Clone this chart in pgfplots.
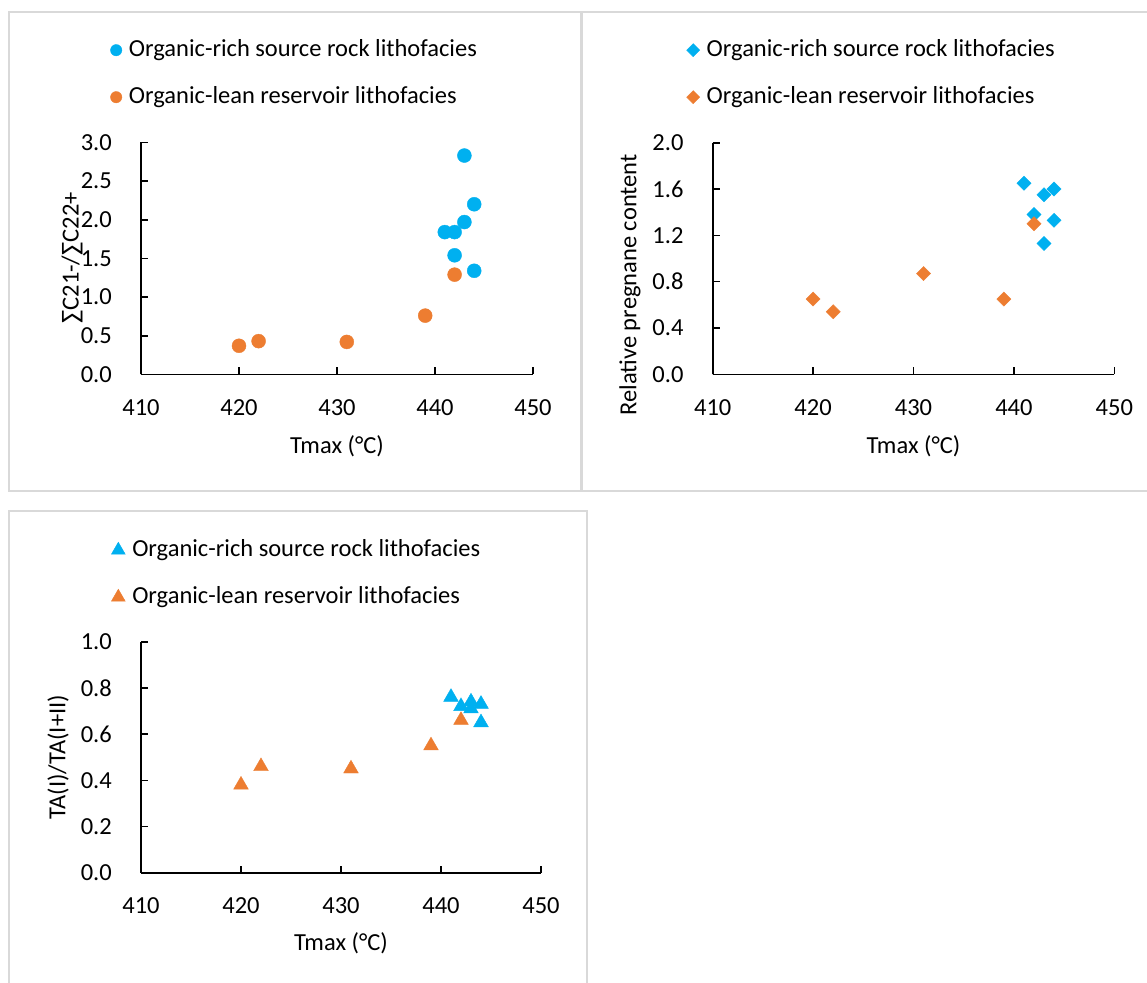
\documentclass[border=0pt]{standalone}
\usepackage{fontspec}
\setmainfont{Carlito}
\usepackage{pgfplots}
\pgfplotsset{compat=1.18}

\definecolor{richblue}{HTML}{00B0F0}
\definecolor{leanorange}{HTML}{ED7D31}
\definecolor{framegray}{HTML}{D9D9D9}

\newcommand{\chartfont}{\fontsize{24.5bp}{29bp}\selectfont}

\pgfplotsset{
  panel/.style={
    scale only axis,
    enlargelimits=false,
    clip=false,
    axis x line*=bottom,
    axis y line*=left,
    axis line style={black, line width=1.6bp, -},
    every tick/.style={black, line width=1.6bp},
    tick align=inside,
    major tick length=7bp,
    xmin=410, xmax=450, xtick={410,420,...,450},
    tick label style={font=\chartfont},
    /pgf/number format/assume math mode=true,
    xticklabel style={anchor=center, inner sep=0pt, yshift=-33.4bp,
      /pgf/number format/.cd, fixed, precision=0, 1000 sep={}},
    yticklabel style={anchor=east, inner sep=0pt, xshift=-29bp,
      /pgf/number format/.cd, fixed, fixed zerofill, precision=1},
    legend cell align=left,
    legend style={
      draw=none, fill=none, font=\chartfont,
      anchor=north west, inner sep=0pt, row sep=25bp,
      nodes={inner sep=0pt, text height=17bp, text depth=5bp},
      /tikz/every odd column/.append style={column sep=7bp},
    },
  },
  xlab/.style={every axis x label/.style={at={(axis description cs:0.5,#1)}, anchor=center, font=\chartfont}},
  ylab/.style 2 args={every axis y label/.style={at={(axis description cs:#1,#2)}, anchor=center, rotate=90, font=\chartfont}},
  richpts/.style={only marks, mark options={draw=none, fill=richblue}, color=richblue},
  leanpts/.style={only marks, mark options={draw=none, fill=leanorange}, color=leanorange},
  keymark/.style={legend image code/.code={\draw[##1, mark size=#1] plot coordinates {(0bp,0bp)};}},
}

\begin{document}
\begin{tikzpicture}
\useasboundingbox (0,0) rectangle (1147bp,-983bp);
\fill[white] (0,0) rectangle (1147bp,-983bp);

% panel frames
\draw[framegray, line width=1.6bp] (9bp,-12bp) rectangle (581bp,-491bp);
\draw[framegray, line width=1.6bp] (1150bp,-12bp) -- (582bp,-12bp) -- (582bp,-491bp) -- (1150bp,-491bp);
\draw[framegray, line width=1.6bp] (9bp,-990bp) -- (9bp,-511bp) -- (587bp,-511bp) -- (587bp,-990bp);

% ---- Sum C21- / Sum C22+ ----
\begin{axis}[panel,
  at={(141bp,-374.4bp)}, anchor=south west,
  width=392bp, height=232bp,
  ymin=0, ymax=3, ytick={0,0.5,...,3},
  xlabel={Tmax (°C)}, ylabel={∑C21-/∑C22+},
  xlab=-0.309, ylab={-0.176}{0.502},
  legend style={at={(axis description cs:-0.0783,1.4457)}},
]
\addplot[richpts, mark=*, mark size=7bp, keymark=5.7bp]
  coordinates {(443,2.83) (444,2.20) (443,1.97) (441,1.84) (442,1.84) (442,1.54) (444,1.34)};
\addlegendentry{Organic-rich source rock lithofacies}
\addplot[leanpts, mark=*, mark size=7bp, keymark=5.7bp]
  coordinates {(420,0.37) (422,0.43) (431,0.42) (439,0.76) (442,1.29)};
\addlegendentry{Organic-lean reservoir lithofacies}
\end{axis}

% ---- Relative pregnane content ----
\begin{axis}[panel,
  at={(712.7bp,-374.3bp)}, anchor=south west,
  width=401.6bp, height=231.6bp,
  ymin=0, ymax=2, ytick={0,0.4,...,2.0},
  xlabel={Tmax (°C)}, ylabel={Relative pregnane content},
  xlab=-0.309, ylab={-0.206}{0.386},
  legend style={at={(axis description cs:-0.0652,1.4478)}},
]
\addplot[richpts, mark=square*, mark size=5bp, mark options={rotate=45}, keymark=4.6bp]
  coordinates {(441,1.65) (443,1.55) (444,1.60) (442,1.38) (444,1.33) (443,1.13)};
\addlegendentry{Organic-rich source rock lithofacies}
\addplot[leanpts, mark=square*, mark size=5bp, mark options={rotate=45}, keymark=4.6bp]
  coordinates {(420,0.65) (422,0.54) (431,0.87) (439,0.65) (442,1.30)};
\addlegendentry{Organic-lean reservoir lithofacies}
\end{axis}

% ---- TA(I)/TA(I+II) ----
\begin{axis}[panel,
  at={(141bp,-872.7bp)}, anchor=south west,
  width=400bp, height=231bp,
  ymin=0, ymax=1, ytick={0,0.2,...,1.0},
  xlabel={Tmax (°C)}, ylabel={TA(I)/TA(I+II)},
  xlab=-0.304, ylab={-0.2075}{0.50},
  legend style={at={(axis description cs:-0.0745,1.4446)}},
]
\addplot[richpts, mark=triangle*, mark size=8.5bp, keymark=8bp]
  coordinates {(441,0.76) (442,0.72) (443,0.74) (443,0.71) (444,0.73) (444,0.65)};
\addlegendentry{Organic-rich source rock lithofacies}
\addplot[leanpts, mark=triangle*, mark size=8.5bp, keymark=8bp]
  coordinates {(420,0.38) (422,0.46) (431,0.45) (439,0.55) (442,0.66)};
\addlegendentry{Organic-lean reservoir lithofacies}
\end{axis}
\end{tikzpicture}
\end{document}
